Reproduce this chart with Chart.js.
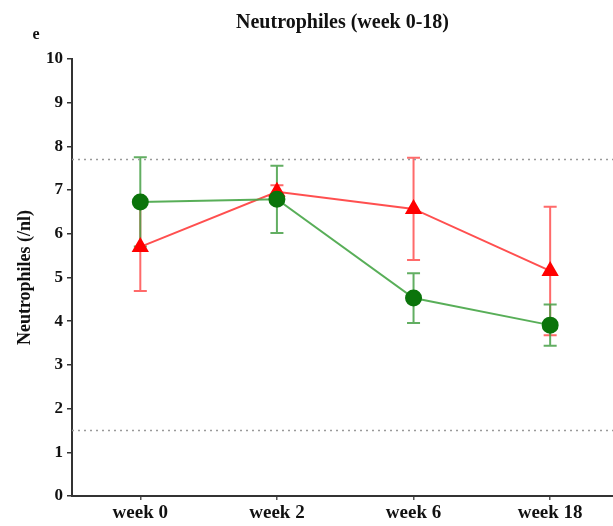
<!DOCTYPE html>
<html>
<head>
<meta charset="utf-8">
<script src="https://cdn.jsdelivr.net/npm/chart.js@4"></script>
<style>
  html, body { margin: 0; padding: 0; background: #fff; overflow: hidden; }
  canvas { display: block; }
</style>
</head>
<body>
<canvas id="neutroChart" width="613" height="526"></canvas>
<script>
// Data
const weeks = ['week 0', 'week 2', 'week 6', 'week 18'];
const greenMean = [6.73, 6.79, 4.53, 3.91];
const greenErr = [1.02, 0.77, 0.57, 0.47];
const redMean = [5.70, 6.96, 6.57, 5.15];
const redErr = [1.01, 0.15, 1.17, 1.47];
const refLines = [7.7, 1.5];
const yRange = [0, 10];

const serif = '"Liberation Serif", "Times New Roman", serif';

function toPoints(values) {
    return values.map((v, i) => ({ x: i, y: v }));
}

// Error bars drawn through the chart scales
const errorBars = {
    id: 'errorBars',
    beforeDatasetsDraw(chart) {
        const ctx = chart.ctx;
        const xs = chart.scales.x;
        const ys = chart.scales.y;
        const sets = [
            { mean: redMean, err: redErr, color: 'rgba(255, 80, 80, 0.85)' },
            { mean: greenMean, err: greenErr, color: 'rgba(70, 160, 70, 0.85)' }
        ];
        ctx.save();
        ctx.lineWidth = 2;
        sets.forEach(s => {
            ctx.strokeStyle = s.color;
            s.mean.forEach((m, i) => {
                const x = xs.getPixelForValue(i);
                const top = ys.getPixelForValue(m + s.err[i]);
                const bot = ys.getPixelForValue(m - s.err[i]);
                ctx.beginPath();
                ctx.moveTo(x, top);
                ctx.lineTo(x, bot);
                ctx.moveTo(x - 6.5, top);
                ctx.lineTo(x + 6.5, top);
                ctx.moveTo(x - 6.5, bot);
                ctx.lineTo(x + 6.5, bot);
                ctx.stroke();
            });
        });
        ctx.restore();
    }
};

// Title and panel letter
const headings = {
    id: 'headings',
    afterDraw(chart) {
        const ctx = chart.ctx;
        const area = chart.chartArea;
        ctx.save();
        ctx.fillStyle = '#111';
        ctx.textAlign = 'center';
        ctx.textBaseline = 'alphabetic';
        ctx.font = 'bold 20px ' + serif;
        ctx.fillText('Neutrophiles (week 0-18)', (area.left + area.right) / 2, 28);
        ctx.font = 'bold 16px ' + serif;
        ctx.fillText('e', 36, 39);
        ctx.restore();
    }
};

const ctx = document.getElementById('neutroChart').getContext('2d');

const chart = new Chart(ctx, {
    type: 'line',
    data: {
        datasets: [
            {
                label: 'green',
                data: toPoints(greenMean),
                borderColor: 'rgba(70, 165, 70, 0.9)',
                borderWidth: 2,
                pointStyle: 'circle',
                pointRadius: 7.5,
                pointBackgroundColor: '#0b740b',
                pointBorderColor: '#0b740b',
                order: 1
            },
            {
                label: 'red',
                data: toPoints(redMean),
                borderColor: 'rgba(255, 60, 60, 0.9)',
                borderWidth: 2,
                pointStyle: 'triangle',
                pointRadius: 8,
                pointBackgroundColor: '#ff0000',
                pointBorderColor: '#ff0000',
                order: 2
            },
            ...refLines.map(v => ({
                label: 'ref ' + v,
                data: [{ x: -0.5, y: v }, { x: 3.46, y: v }],
                borderColor: '#9a9a9a',
                borderWidth: 1.5,
                borderDash: [2, 4],
                pointRadius: 0,
                order: 3
            }))
        ]
    },
    options: {
        responsive: false,
        animation: false,
        events: [],
        layout: {
            autoPadding: false,
            padding: { top: 59, left: 0, right: 0, bottom: 0 }
        },
        plugins: {
            legend: { display: false },
            title: { display: false },
            tooltip: { enabled: false }
        },
        scales: {
            x: {
                type: 'linear',
                min: -0.5,
                max: 3.46,
                afterFit: s => {
                    s.height = 30;
                    s.paddingLeft = 0;
                    s.paddingRight = 0;
                },
                afterBuildTicks: s => { s.ticks = weeks.map((_, i) => ({ value: i })); },
                ticks: {
                    callback: v => weeks[v] || '',
                    color: '#111',
                    font: { family: serif, size: 19, weight: 'bold' },
                    padding: 2,
                    maxRotation: 0
                },
                grid: {
                    drawOnChartArea: false,
                    drawTicks: true,
                    tickLength: 4,
                    color: '#555',
                    lineWidth: 1.5
                },
                border: { color: '#333', width: 2 }
            },
            y: {
                min: yRange[0],
                max: yRange[1],
                afterFit: s => { s.width = 72; },
                ticks: {
                    stepSize: 1,
                    color: '#111',
                    font: { family: serif, size: 17, weight: 'bold' },
                    padding: 4
                },
                grid: {
                    drawOnChartArea: false,
                    drawTicks: true,
                    tickLength: 5,
                    color: '#333',
                    lineWidth: 1.5
                },
                border: { color: '#333', width: 2 },
                title: {
                    display: true,
                    text: 'Neutrophiles (/nl)',
                    color: '#111',
                    font: { family: serif, size: 18, weight: 'bold' },
                    padding: { top: 15, bottom: 0 }
                }
            }
        }
    },
    plugins: [errorBars, headings]
});
</script>
</body>
</html>
